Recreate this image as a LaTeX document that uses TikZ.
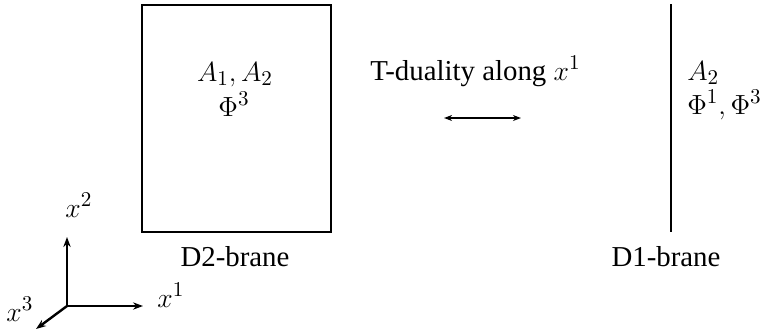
\documentclass[tikz,border=0pt]{standalone}
\usepackage{fontspec}
\setmainfont{Liberation Serif}
\usetikzlibrary{arrows.meta}
\begin{document}
\begin{tikzpicture}[x=0.52pt,y=-0.52pt,
  font=\fontsize{15}{18}\selectfont,
  lbl/.style={inner sep=0pt, anchor=base},
  lblw/.style={inner sep=0pt, anchor=base west},
  brane/.style={line width=1.35pt},
  axis/.style={line width=1.25pt, -{Stealth[length=5.2pt,width=3.8pt]}},
  dual/.style={line width=0.75pt, {Stealth[length=4.2pt,width=3.1pt]}-{Stealth[length=4.2pt,width=3.1pt]}}]
\useasboundingbox (0,0) rectangle (767,332);
% D2-brane box
\node[draw, brane, inner sep=0pt, outer sep=0pt, minimum width=98.3pt, minimum height=118pt] (box) at (236.5,118.5) {};
\node[lbl] (a12) at (235,81) {$A_1, A_2$};
\node[lbl] (phi3) at (234,116) {$\Phi^3$};
\node[lbl] (d2) at (235,266) {D2-brane};
% T-duality
\node[lblw] (tdual) at (370,80) {T-duality along $x^1$};
\coordinate (dl) at (444,118);
\coordinate (dr) at (521,118);
\draw[dual] (dl) -- (dr);
% D1-brane
\coordinate (d1top) at (671,4);
\coordinate (d1bot) at (671,232);
\draw[brane] (d1top) -- (d1bot);
\node[lblw] (a2) at (687,80) {$A_2$};
\node[lblw] (phi13) at (687,114) {$\Phi^1, \Phi^3$};
\node[lbl] (d1) at (666,266) {D1-brane};
% axes
\coordinate (O) at (67,306);
\coordinate (X1) at (143,306);
\coordinate (X2) at (67,237);
\coordinate (X3) at (36,329);
\draw[axis] (O) -- (X1);
\draw[axis] (O) -- (X2);
\draw[axis] (O) -- (X3);
\node[lblw] (lx1) at (157,307) {$x^1$};
\node[lblw] (lx2) at (65,217) {$x^2$};
\node[lblw] (lx3) at (6,321) {$x^3$};
\end{tikzpicture}
\end{document}
